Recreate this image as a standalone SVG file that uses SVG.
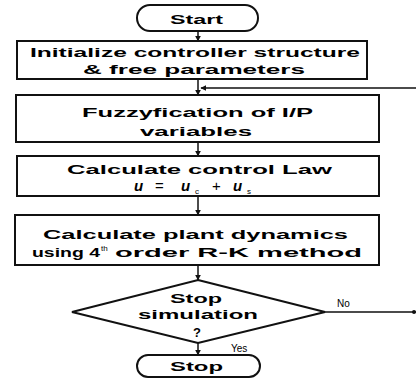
<svg xmlns="http://www.w3.org/2000/svg" width="416" height="385" viewBox="0 0 416 385">
  <style>
    .box { fill: #fff; stroke: #111; stroke-width: 2; }
    .lbl { font-family: "Liberation Sans", Arial, sans-serif; font-weight: bold; font-size: 13px; fill: #000; }
    .small { font-family: "Liberation Sans", Arial, sans-serif; font-size: 10px; fill: #000; }
    .sup { font-family: "Liberation Sans", Arial, sans-serif; font-size: 8px; fill: #000; }
    .math { font-family: "Liberation Sans", Arial, sans-serif; font-weight: bold; font-style: italic; font-size: 15px; fill: #000; }
    .op { font-family: "Liberation Sans", Arial, sans-serif; font-size: 15px; fill: #000; }
    .edge { fill: none; stroke: #111; stroke-width: 1.5; }
  </style>
  <defs>
    <marker id="arrow" viewBox="0 0 10 10" refX="9" refY="5" markerWidth="6" markerHeight="6" orient="auto" markerUnits="userSpaceOnUse">
      <path d="M0,0 L10,5 L0,10 z" fill="#111"/>
    </marker>
  </defs>
  <rect width="416" height="385" fill="#fff"/>

  <!-- connectors -->
  <g id="connectors">
    <line class="edge" x1="198" y1="31" x2="198" y2="41" marker-end="url(#arrow)"/>
    <line class="edge" x1="198" y1="79" x2="198" y2="95" marker-end="url(#arrow)"/>
    <line class="edge" x1="198" y1="142" x2="198" y2="156" marker-end="url(#arrow)"/>
    <line class="edge" x1="198" y1="196" x2="198" y2="215" marker-end="url(#arrow)"/>
    <line class="edge" x1="198" y1="265" x2="198" y2="280" marker-end="url(#arrow)"/>
    <line class="edge" x1="198" y1="343" x2="198" y2="355" marker-end="url(#arrow)"/>
    <!-- "No" loop back to the fuzzyfication step -->
    <path class="edge" d="M325,312 H418 V88 H201" marker-end="url(#arrow)"/>
    <circle cx="414" cy="312" r="2" fill="#111"/>
    <text class="small" x="337" y="307">No</text>
    <text class="small" x="231" y="352">Yes</text>
  </g>

  <g id="start">
    <rect class="box" x="137" y="5" width="121" height="26" rx="13" ry="13"/>
    <text class="lbl" x="170" y="24" textLength="53" lengthAdjust="spacingAndGlyphs">Start</text>
  </g>

  <g id="init">
    <rect class="box" x="17" y="41" width="350" height="38"/>
    <text class="lbl" x="30" y="57" textLength="330" lengthAdjust="spacingAndGlyphs">Initialize controller structure</text>
    <text class="lbl" x="83" y="74" textLength="222" lengthAdjust="spacingAndGlyphs">&amp; free parameters</text>
  </g>

  <g id="fuzzy">
    <rect class="box" x="16" y="95" width="363" height="47"/>
    <text class="lbl" x="82" y="117" textLength="231" lengthAdjust="spacingAndGlyphs">Fuzzyfication of I/P</text>
    <text class="lbl" x="140" y="136" textLength="112" lengthAdjust="spacingAndGlyphs">variables</text>
  </g>

  <g id="control-law">
    <rect class="box" x="17" y="156" width="362" height="40"/>
    <text class="lbl" x="67" y="174" textLength="265" lengthAdjust="spacingAndGlyphs">Calculate control Law</text>
    <text class="math" x="134" y="191">u</text>
    <text class="op" x="155" y="191">=</text>
    <text class="math" x="181" y="191">u</text>
    <text class="sup" x="195" y="194">c</text>
    <text class="op" x="212" y="191">+</text>
    <text class="math" x="233" y="191">u</text>
    <text class="sup" x="247" y="194">s</text>
  </g>

  <g id="plant">
    <rect class="box" x="15" y="215" width="364" height="50"/>
    <text class="lbl" x="43" y="239" textLength="305" lengthAdjust="spacingAndGlyphs">Calculate plant dynamics</text>
    <text class="lbl" x="32" y="257" textLength="68" lengthAdjust="spacingAndGlyphs">using 4</text>
    <text class="sup" x="101" y="251">th</text>
    <text class="lbl" x="115" y="257" textLength="247" lengthAdjust="spacingAndGlyphs">order R-K method</text>
  </g>

  <g id="decision">
    <polygon class="box" points="198,280 325,312 198,343 72,312"/>
    <text class="lbl" x="170" y="303" textLength="52" lengthAdjust="spacingAndGlyphs">Stop</text>
    <text class="lbl" x="138" y="319" textLength="120" lengthAdjust="spacingAndGlyphs">simulation</text>
    <text class="lbl" x="197" y="337" text-anchor="middle">?</text>
  </g>

  <g id="stop">
    <rect class="box" x="137" y="355" width="123" height="22" rx="11" ry="11"/>
    <text class="lbl" x="170" y="371" textLength="53" lengthAdjust="spacingAndGlyphs">Stop</text>
  </g>
</svg>
